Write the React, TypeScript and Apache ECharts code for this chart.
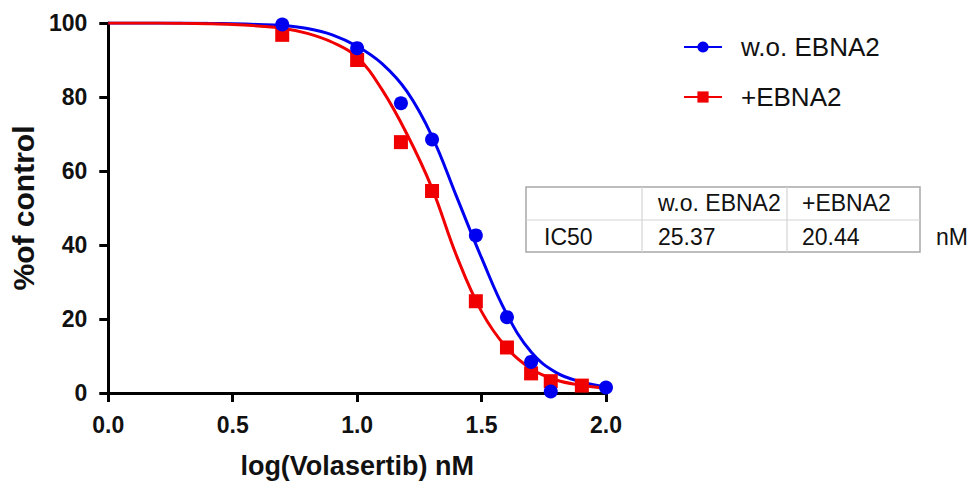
import React, { useEffect, useRef } from "react";
import * as echarts from "echarts";

// ---- data ----
const seriesNames = ["w.o. EBNA2", "+EBNA2"];

// measured points (log nM, % of control)
const blueX = [0.699, 1.0, 1.176, 1.301, 1.477, 1.602, 1.699, 1.778, 2.0];
const blueY = [99.6, 93.2, 78.3, 68.5, 42.6, 20.5, 8.4, 0.4, 1.5];
const redX = [0.699, 1.0, 1.176, 1.301, 1.477, 1.602, 1.699, 1.778, 1.903];
const redY = [96.8, 90.0, 67.8, 54.6, 24.8, 12.3, 5.3, 3.2, 2.0];

// fitted curves
const curveX = [0, 0.1, 0.2, 0.3, 0.4, 0.5, 0.6, 0.7, 0.8, 0.9, 1.0, 1.1, 1.2, 1.3, 1.4, 1.5, 1.6, 1.7, 1.8, 1.9, 2.0];
const blueCurve = [100, 100, 100, 100, 99.9, 99.8, 99.6, 99.3, 98.5, 96.8, 93.7, 89, 81.5, 69.5, 53, 36.5, 21.5, 11, 5.5, 3, 1.7];
const redCurve = [100, 100, 100, 99.9, 99.8, 99.6, 99.2, 98.6, 97.2, 94.8, 90.8, 82, 70, 55.5, 37, 22, 12.3, 6.5, 3.5, 2.1, 1.3];

// IC50 table
const tableHeader = ["", "w.o. EBNA2", "+EBNA2"];
const tableRow = ["IC50", "25.37", "20.44"];
const tableUnit = "nM";

const xAxisName = "log(Volasertib) nM";
const yAxisName = "%of control";

const BLUE = "#0000f0";
const RED = "#f00000";
const FONT = "Arial, 'Liberation Sans', sans-serif";

const zip = (xs: number[], ys: number[]) => xs.map((x, i) => [x, ys[i]]);

export default function App() {
  const ref = useRef<HTMLDivElement>(null);
  useEffect(() => {
    document.body.style.margin = "0";
    const chart = echarts.init(ref.current!, null, { renderer: "svg" });

    const tL = 526, tT = 187, tW = 394, tH = 65, rowH = 33;
    const colX = [526, 642, 787];
    const textStyle = (t: string, x: number, y: number) => ({
      type: "text",
      x,
      y,
      style: { text: t, fontSize: 23, fontFamily: FONT, fill: "#111", verticalAlign: "middle", align: "left" },
    });
    const graphics: any[] = [
      { type: "rect", shape: { x: tL, y: tT, width: tW, height: tH }, style: { fill: "none", stroke: "#a8a8a8", lineWidth: 1.5 } },
      { type: "line", shape: { x1: tL, y1: tT + rowH, x2: tL + tW, y2: tT + rowH }, style: { stroke: "#d4d4d4", lineWidth: 1.2 } },
      { type: "line", shape: { x1: colX[1], y1: tT, x2: colX[1], y2: tT + tH }, style: { stroke: "#d4d4d4", lineWidth: 1.2 } },
      { type: "line", shape: { x1: colX[2], y1: tT, x2: colX[2], y2: tT + tH }, style: { stroke: "#d4d4d4", lineWidth: 1.2 } },
    ];
    const textX = [544, 658, 802];
    tableHeader.forEach((t, i) => { if (t) graphics.push(textStyle(t, textX[i], tT + 16)); });
    tableRow.forEach((t, i) => graphics.push(textStyle(t, textX[i], tT + 50)));
    graphics.push(textStyle(tableUnit, 936, tT + 50));

    chart.setOption({
      animation: false,
      backgroundColor: "#fff",
      grid: { left: 105, right: 370, top: 23, bottom: 95, containLabel: false },
      legend: {
        orient: "vertical",
        left: 683,
        top: 34,
        padding: 0,
        itemWidth: 38,
        itemHeight: 14,
        itemGap: 24,
        data: seriesNames,
        textStyle: { fontSize: 26, fontFamily: FONT, color: "#111", padding: [0, 0, 0, 14] },
      },
      xAxis: {
        type: "value",
        min: 0,
        max: 2,
        interval: 0.5,
        name: xAxisName,
        nameLocation: "middle",
        nameGap: 59,
        nameTextStyle: { fontSize: 27, fontWeight: "bold", fontFamily: FONT, color: "#111" },
        axisLine: { lineStyle: { color: "#000", width: 3 } },
        axisTick: { show: true, inside: false, length: 9, lineStyle: { color: "#000", width: 3 } },
        axisLabel: { fontSize: 23, fontWeight: "bold", fontFamily: FONT, color: "#111", margin: 20, formatter: (v: number) => v.toFixed(1) },
        splitLine: { show: false },
      },
      yAxis: {
        type: "value",
        min: 0,
        max: 100,
        interval: 20,
        name: yAxisName,
        nameLocation: "middle",
        nameGap: 67,
        nameTextStyle: { fontSize: 30, fontWeight: "bold", fontFamily: FONT, color: "#111" },
        axisLine: { show: true, lineStyle: { color: "#000", width: 3 } },
        axisTick: { show: true, inside: false, length: 9, lineStyle: { color: "#000", width: 3 } },
        axisLabel: { fontSize: 23, fontWeight: "bold", fontFamily: FONT, color: "#111", margin: 21 },
        splitLine: { show: false },
      },
      graphic: graphics,
      series: [
        {
          name: seriesNames[0],
          type: "line",
          data: zip(curveX, blueCurve),
          smooth: 0.4,
          symbol: "circle",
          symbolSize: 14,
          showSymbol: false,
          lineStyle: { color: BLUE, width: 3 },
          itemStyle: { color: BLUE },
          z: 2,
        },
        {
          name: seriesNames[1],
          type: "line",
          data: zip(curveX, redCurve),
          smooth: 0.4,
          symbol: "rect",
          symbolSize: 14,
          showSymbol: false,
          lineStyle: { color: RED, width: 3 },
          itemStyle: { color: RED },
          z: 2,
        },
        {
          name: seriesNames[1],
          type: "scatter",
          data: zip(redX, redY),
          symbol: "rect",
          symbolSize: 14,
          itemStyle: { color: RED, opacity: 1 },
          clip: false,
          z: 3,
        },
        {
          name: seriesNames[0],
          type: "scatter",
          data: zip(blueX, blueY),
          symbol: "circle",
          symbolSize: 14,
          itemStyle: { color: BLUE, opacity: 1 },
          clip: false,
          z: 4,
        },
      ],
    });
    return () => chart.dispose();
  }, []);
  return <div ref={ref} style={{ width: 976, height: 488 }} />;
}
